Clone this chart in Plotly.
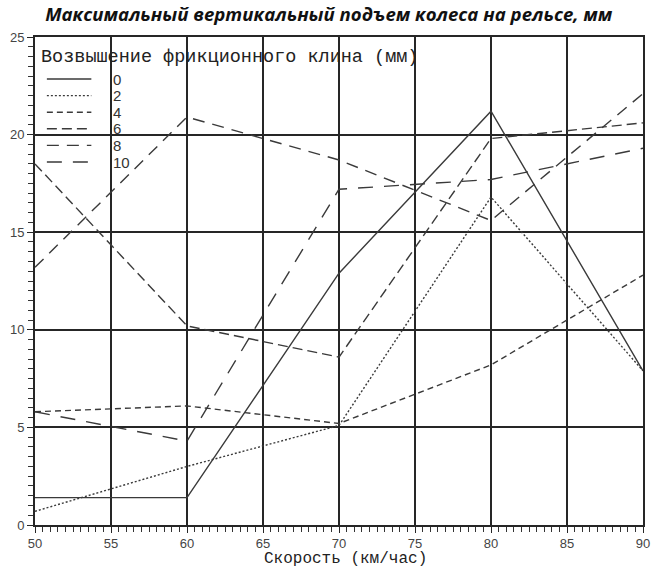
import plotly.graph_objects as go

# Speed (km/h) and maximum vertical wheel lift on the rail (mm)
speeds = [50, 60, 70, 80, 90]
wedge_heights = ["0", "2", "4", "6", "8", "10"]
lift_0 = [1.4, 1.4, 12.9, 21.2, 7.9]
lift_2 = [0.7, 3.0, 5.1, 16.8, 7.9]
lift_4 = [5.8, 6.1, 5.2, 8.2, 12.8]
lift_6 = [18.5, 10.2, 8.6, 19.8, 20.6]
lift_8 = [13.2, 20.9, 18.7, 15.6, 22.1]
lift_10 = [5.8, 4.3, 17.2, 17.7, 19.3]

series = [lift_0, lift_2, lift_4, lift_6, lift_8, lift_10]
dashes = ["solid", "2px,2px", "6px,4px", "10px,5px", "12px,8px", "15px,11px"]
line_color = "#3a3a3a"
grid_color = "#262626"

fig = go.Figure()
for name, ys, dash in zip(wedge_heights, series, dashes):
    fig.add_trace(go.Scatter(
        x=speeds, y=ys, mode="lines", name=name,
        line=dict(color=line_color, width=1.4, dash=dash),
        showlegend=False,
    ))

# Compact in-plot key drawn with shapes and annotations
plot_l, plot_r, plot_t, plot_b = 35, 650, 37, 525
pw, ph = plot_r - plot_l, plot_b - plot_t


def px_to_paper_x(px):
    return (px - plot_l) / pw


def px_to_paper_y(py):
    return (plot_b - py) / ph


fig.add_annotation(
    x=px_to_paper_x(39), y=px_to_paper_y(57), xref="paper", yref="paper",
    text="Возвышение фрикционного клина (мм)", showarrow=False,
    xanchor="left", yanchor="middle",
    font=dict(family="Liberation Mono", size=18.5, color="#222"),
)
for i, (name, dash) in enumerate(zip(wedge_heights, dashes)):
    yy = px_to_paper_y(79 + 16.6 * i)
    fig.add_shape(
        type="line", xref="paper", yref="paper",
        x0=px_to_paper_x(47), x1=px_to_paper_x(92), y0=yy, y1=yy,
        line=dict(color=line_color, width=1.4, dash=dash),
    )
    fig.add_annotation(
        x=px_to_paper_x(112), y=yy, xref="paper", yref="paper",
        text=name, showarrow=False, xanchor="left", yanchor="middle",
        font=dict(family="Liberation Sans", size=15, color="#333"),
    )

# Axis caption under the speed scale
fig.add_annotation(
    x=px_to_paper_x(349), y=px_to_paper_y(558.5), xref="paper", yref="paper",
    text="Скорость (км/час)", showarrow=False,
    xanchor="center", yanchor="middle", borderpad=0,
    font=dict(family="Liberation Mono", size=16, color="#222"),
)

axis_common = dict(
    showgrid=True, gridcolor=grid_color, gridwidth=1.7,
    showline=True, linecolor=grid_color, linewidth=1.7, mirror=True,
    zeroline=False, ticks="outside", ticklen=6, tickcolor=grid_color,
    tickwidth=1.4, ticklabelstandoff=0,
    tickfont=dict(family="Liberation Sans", size=13, color="#444"),
    minor=dict(dtick=0.5, tick0=0, ticks="outside", ticklen=5,
               tickcolor="#333", tickwidth=1.4, showgrid=False),
)

fig.update_xaxes(range=[50, 90], tick0=50, dtick=5, **axis_common)
fig.update_yaxes(range=[0, 25], tick0=0, dtick=5, **axis_common)

fig.update_layout(
    width=657, height=567,
    margin=dict(l=plot_l, r=657 - plot_r, t=plot_t, b=567 - plot_b),
    paper_bgcolor="white", plot_bgcolor="white",
    title=dict(
        text="<b><i>Максимальный вертикальный подъем колеса на рельсе, мм</i></b>",
        x=(332 - plot_l) / pw, xref="paper", xanchor="center",
        y=1 - 14 / 567, yanchor="middle",
        font=dict(family="Open Sans", size=18.6, color="#111"),
    ),
)

fig.write_html("out.html")
